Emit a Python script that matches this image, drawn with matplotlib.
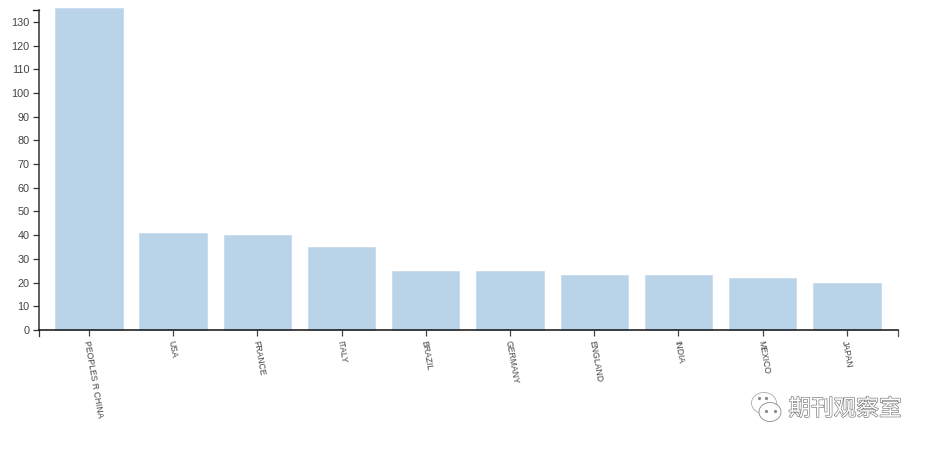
import matplotlib
matplotlib.use("Agg")
import matplotlib.pyplot as plt
from matplotlib.patches import Ellipse
import matplotlib.patheffects as pe

countries = ["PEOPLES R CHINA","USA","FRANCE","ITALY","BRAZIL","GERMANY","ENGLAND","INDIA","MEXICO","JAPAN"]
counts = [136,41,40,35,25,25,23,23,22,20]
y_ticks = list(range(0,131,10))

W,H = 933,450
plt.rcParams['font.family'] = ['Liberation Sans','Noto Sans CJK SC','DejaVu Sans']

fig = plt.figure(figsize=(W/100,H/100),dpi=100)
# axes box in pixels: x 39-898, y 330 up to 10
ax = fig.add_axes([39/W,(H-330)/H,859/W,320/H])

ax.bar(range(len(countries)),counts,width=0.8,color="#b9d3e9",edgecolor="#c9dcec",lw=0.6,clip_on=False,zorder=2)
x_lo,x_hi = -0.593,9.607
ax.set_xlim(x_lo,x_hi)
ax.set_ylim(0,135)

for side in ("top","right"):
    ax.spines[side].set_visible(False)
ax.spines["left"].set_linewidth(1.1)
ax.spines["left"].set_color("#333333")
ax.spines["bottom"].set_linewidth(1.1)
ax.spines["bottom"].set_color("#111111")
ax.spines["bottom"].set_zorder(5)

ax.set_yticks(y_ticks)
ax.tick_params(axis="y",length=4.5,width=0.9,color="#333333",labelsize=7.8,labelcolor="#444444",pad=2.5)
ax.set_xticks(range(len(countries)))
ax.set_xticklabels([])
ax.tick_params(axis="x",length=4.5,width=0.9,color="#444444")

# end caps of the axes, same as d3 domain path
ax.plot([x_lo,x_lo],[0,-2.5],color="#333333",lw=0.9,clip_on=False)
ax.plot([x_hi,x_hi],[0,-2.5],color="#555555",lw=0.9,clip_on=False)
ax.plot([x_lo,x_lo-6/84.2],[135,135],color="#111111",lw=0.9,clip_on=False)

# rotated country labels
for i,name in enumerate(countries):
    ax.annotate(name,xy=(i,0),xycoords=("data","data"),xytext=(-1.5,-7.5),textcoords="offset points",
                rotation=-80,rotation_mode="anchor",ha="left",va="center",fontsize=6.2,color="#444444")

# watermark, top of the picture
wm = fig.add_axes([0,0,1,1])
wm.set_xlim(0,W)
wm.set_ylim(H,0)
wm.axis("off")
wm.patch.set_alpha(0)
wm.add_patch(Ellipse((764,403),25,21,fc="white",ec="#aaaaaa",lw=0.6))
wm.add_patch(Ellipse((770,412),22,19,fc="white",ec="#888888",lw=0.6))
for px,py in [(759,398),(766,398),(766,411),(775,411)]:
    wm.plot(px,py,"o",ms=1.3,color="#888888")
wm.text(845,409,"期刊观察室",ha="center",va="center",fontsize=16.3,color="white",
        path_effects=[pe.withStroke(linewidth=0.9,foreground="#777777")])

fig.savefig("out.png",dpi=100)
